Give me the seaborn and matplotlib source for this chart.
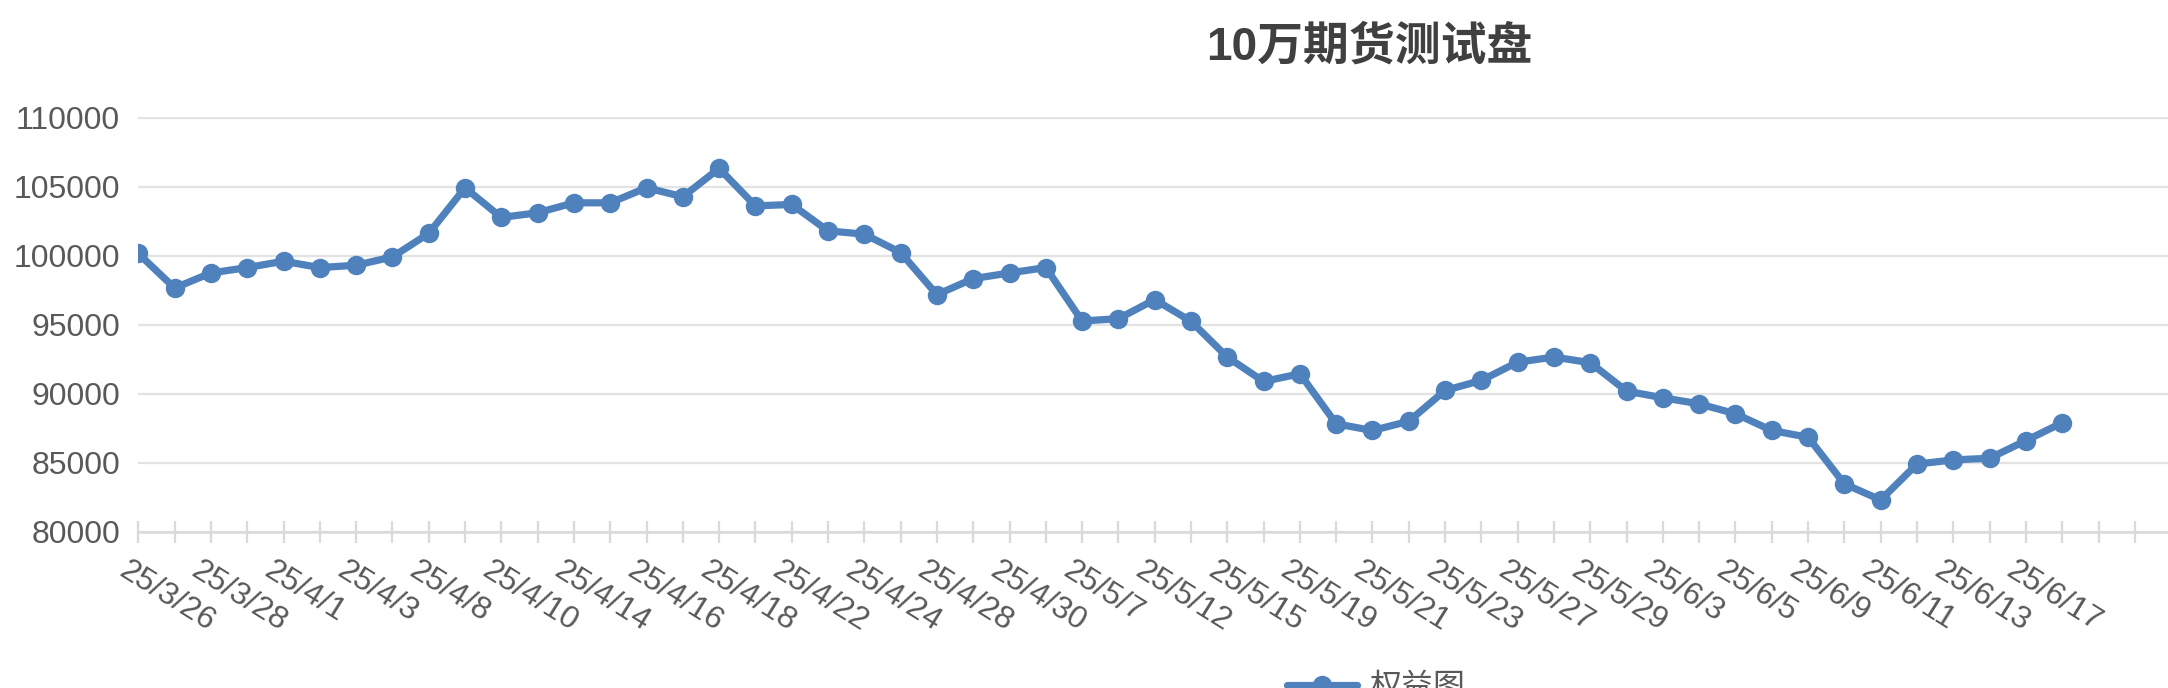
import numpy as np
import seaborn as sns
import matplotlib.pyplot as plt
from matplotlib.transforms import ScaledTranslation

# equity curve values, one per trading day
equity = [100150, 97650, 98740, 99130, 99590, 99130, 99300, 99900, 101600, 104910,
          102760, 103100, 103820, 103820, 104910, 104260, 106310, 103600, 103700, 101790,
          101550, 100220, 97170, 98330, 98740, 99130, 95260, 95430, 96810, 95240,
          92650, 90880, 91440, 87810, 87330, 88000, 90230, 90960, 92280, 92650,
          92240, 90180, 89700, 89260, 88540, 87330, 86840, 83460, 82300, 84900,
          85200, 85320, 86600, 87890]
# labels shown on every second category
date_labels = ['25/3/26', '25/3/28', '25/4/1', '25/4/3', '25/4/8', '25/4/10', '25/4/14',
               '25/4/16', '25/4/18', '25/4/22', '25/4/24', '25/4/28', '25/4/30', '25/5/7',
               '25/5/12', '25/5/15', '25/5/19', '25/5/21', '25/5/23', '25/5/27', '25/5/29',
               '25/6/3', '25/6/5', '25/6/9', '25/6/11', '25/6/13', '25/6/17']
n_categories = 56
y_ticks = [80000, 85000, 90000, 95000, 100000, 105000, 110000]
title = '10万期货测试盘'
series_name = '权益图'

sns.set_theme(style='white')
plt.rcParams['font.family'] = ['Liberation Sans', 'Noto Sans CJK SC', 'DejaVu Sans']

blue = '#4f81bd'
grey_txt = '#595959'

fig = plt.figure(figsize=(21.68, 6.88), dpi=100)
ax = fig.add_axes([138.3 / 2168, 156.3 / 688, 1 - 138.3 / 2168, (531.7 - 117.5) / 688])

x = np.arange(len(equity))
sns.lineplot(x=x, y=equity, ax=ax, color=blue, linewidth=5.2, marker='o',
             markersize=14, markeredgewidth=0)

ax.set_ylim(80000, 110000)
ax.set_xlim(0, (2168 - 138.3) / 36.3)
ax.set_yticks(y_ticks)
ax.set_yticklabels([str(v) for v in y_ticks])
ax.yaxis.grid(True, color='#e3e3e3', linewidth=1.6)
ax.set_axisbelow(True)

ax.set_xticks(np.arange(n_categories))
labels = [''] * n_categories
for i, lab in enumerate(date_labels):
    labels[2 * i] = lab
ax.set_xticklabels(labels, rotation=-32, ha='left', va='top', rotation_mode='anchor')
ax.tick_params(axis='x', bottom=True, direction='inout', length=16, width=1.6,
               color='#d9d9d9', pad=9, labelsize=23, labelcolor=grey_txt)
ax.tick_params(axis='y', left=False, length=0, pad=13, labelsize=23, labelcolor=grey_txt)
shift = ScaledTranslation(-0.09, 0, fig.dpi_scale_trans)
for lab in ax.get_xticklabels():
    lab.set_transform(lab.get_transform() + shift)

for side in ['top', 'right', 'left']:
    ax.spines[side].set_visible(False)
ax.spines['bottom'].set_color('#d9d9d9')
ax.spines['bottom'].set_linewidth(1.8)
ax.set_xlabel('')
ax.set_ylabel('')

fig.text(1369 / 2168, 1 - 48 / 688, title, ha='center', va='center', fontsize=33,
         fontweight='bold', color='#404040',
         family=['Liberation Sans', 'Noto Sans CJK SC'])

line = ax.get_lines()[0]
fig.legend(handles=[line], labels=[series_name], loc='center left',
           bbox_to_anchor=(1258 / 2168, 0.0), frameon=False, fontsize=23,
           handlelength=2.2, handletextpad=0.4, labelcolor=grey_txt)

fig.savefig('out.png', dpi=100)
